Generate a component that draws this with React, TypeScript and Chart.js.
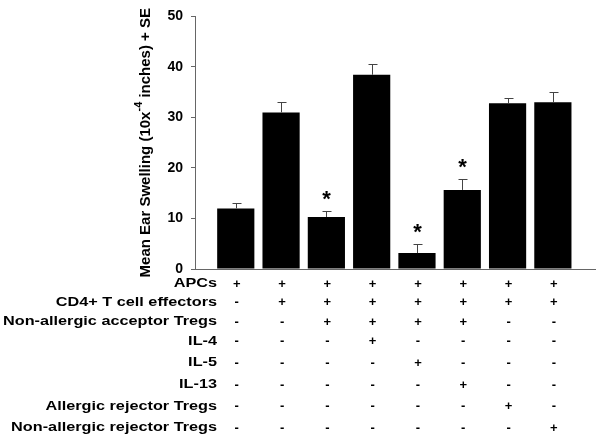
import React, { useEffect, useRef } from "react";
import { Chart, registerables } from "chart.js";

Chart.register(...registerables);

// ---- Data ----
const means = [12.0, 31.0, 10.3, 38.45, 3.15, 15.65, 32.8, 33.0];
const errors = [1.0, 2.0, 1.1, 2.1, 1.85, 2.25, 1.0, 2.0];
const significant = [false, false, true, false, true, true, false, false];
const yTicks = [0, 10, 20, 30, 40, 50];

const rowLabels = [
  "APCs",
  "CD4+ T cell effectors",
  "Non-allergic acceptor Tregs",
  "IL-4",
  "IL-5",
  "IL-13",
  "Allergic rejector Tregs",
  "Non-allergic rejector Tregs",
];
const rowSigns = [
  ["+", "+", "+", "+", "+", "+", "+", "+"],
  ["-", "+", "+", "+", "+", "+", "+", "+"],
  ["-", "-", "+", "+", "+", "+", "-", "-"],
  ["-", "-", "-", "+", "-", "-", "-", "-"],
  ["-", "-", "-", "-", "+", "-", "-", "-"],
  ["-", "-", "-", "-", "-", "+", "-", "-"],
  ["-", "-", "-", "-", "-", "-", "+", "-"],
  ["-", "-", "-", "-", "-", "-", "-", "+"],
];

const FONT = "'Liberation Sans', Arial, sans-serif";
const ROW_Y = [284, 302.5, 322, 341.5, 363, 385, 406.5, 428];
const LABEL_STRETCH = 1.3;

const overlayPlugin = {
  id: "overlay",
  afterDatasetsDraw(chart: any) {
    const ctx = chart.ctx;
    const xs = chart.scales.x;
    const ys = chart.scales.y;
    ctx.save();
    ctx.strokeStyle = "#444";
    ctx.lineWidth = 1;
    means.forEach((m, i) => {
      const x = Math.round(xs.getPixelForValue(i)) + 0.5;
      const yb = ys.getPixelForValue(m);
      const yt = Math.round(ys.getPixelForValue(m + errors[i])) + 0.5;
      ctx.beginPath();
      ctx.moveTo(x, yb);
      ctx.lineTo(x, yt);
      ctx.moveTo(x - 4, yt);
      ctx.lineTo(x + 5, yt);
      ctx.stroke();
      if (significant[i]) {
        ctx.fillStyle = "#000";
        ctx.font = `bold 22px ${FONT}`;
        ctx.textAlign = "center";
        ctx.textBaseline = "alphabetic";
        ctx.fillText("*", x, yt - 6);
      }
    });
    ctx.restore();
  },
  afterDraw(chart: any) {
    const ctx = chart.ctx;
    const xs = chart.scales.x;
    const area = chart.chartArea;
    ctx.save();
    ctx.fillStyle = "#000";
    ctx.textBaseline = "middle";
    rowLabels.forEach((label, r) => {
      const y = ROW_Y[r];
      ctx.save();
      ctx.font = `bold 12.5px ${FONT}`;
      ctx.textAlign = "right";
      ctx.translate(217, y);
      ctx.scale(LABEL_STRETCH, 1);
      ctx.fillText(label, 0, 0);
      ctx.restore();
      ctx.font = `bold 13px ${FONT}`;
      ctx.textAlign = "center";
      rowSigns[r].forEach((s, i) => {
        ctx.fillText(s, xs.getPixelForValue(i) + 1, y);
      });
    });
    // y axis title with superscript
    const p1 = "Mean Ear Swelling (10x";
    const p2 = "-4";
    const p3 = " inches) + SE";
    const mainFont = `bold 15px ${FONT}`;
    const supFont = `bold 11px ${FONT}`;
    ctx.font = mainFont;
    const w1 = ctx.measureText(p1).width;
    const w3 = ctx.measureText(p3).width;
    ctx.font = supFont;
    const w2 = ctx.measureText(p2).width;
    const total = w1 + w2 + w3;
    const cy = (area.top + area.bottom) / 2;
    ctx.translate(150, cy);
    ctx.rotate(-Math.PI / 2);
    ctx.textAlign = "left";
    ctx.textBaseline = "alphabetic";
    let x0 = -total / 2;
    ctx.font = mainFont;
    ctx.fillText(p1, x0, 0);
    x0 += w1;
    ctx.font = supFont;
    ctx.fillText(p2, x0, -8);
    x0 += w2;
    ctx.font = mainFont;
    ctx.fillText(p3, x0, 0);
    ctx.restore();
  },
};

export default function App() {
  const ref = useRef<HTMLCanvasElement>(null);
  useEffect(() => {
    if (!ref.current) return;
    const chart = new Chart(ref.current, {
      type: "bar",
      data: {
        datasets: [
          {
            data: means.map((v, i) => ({ x: i, y: v })),
            backgroundColor: "#000",
            borderWidth: 0,
            barPercentage: 0.883,
            categoryPercentage: 1,
          },
        ],
      },
      options: {
        responsive: false,
        animation: false,
        layout: { padding: { top: 15, right: 7, left: 0, bottom: 0 } },
        plugins: { legend: { display: false }, tooltip: { enabled: false } },
        scales: {
          x: {
            type: "linear",
            offset: false,
            min: -0.9,
            max: 7.93,
            ticks: { display: false },
            grid: { display: false, offset: false },
            border: { display: true, color: "#666", width: 1 },
            afterFit: (s: any) => {
              s.height = 175;
            },
          },
          y: {
            min: 0,
            max: 50,
            afterBuildTicks: (s: any) => {
              s.ticks = yTicks.map((v) => ({ value: v }));
            },
            ticks: {
              color: "#000",
              padding: 8,
              font: { family: FONT, size: 14, weight: "bold" },
            },
            grid: {
              display: true,
              drawOnChartArea: false,
              drawTicks: true,
              tickLength: 4,
              color: "#666",
            },
            border: { display: true, color: "#666", width: 1 },
            afterFit: (s: any) => {
              s.width = 195;
            },
          },
        },
      },
      plugins: [overlayPlugin],
    } as any);
    return () => chart.destroy();
  }, []);
  return (
    <div style={{ position: "absolute", left: 0, top: 0, width: 602, height: 444, background: "#fff" }}>
      <canvas ref={ref} width={602} height={444} style={{ width: 602, height: 444 }} />
    </div>
  );
}
